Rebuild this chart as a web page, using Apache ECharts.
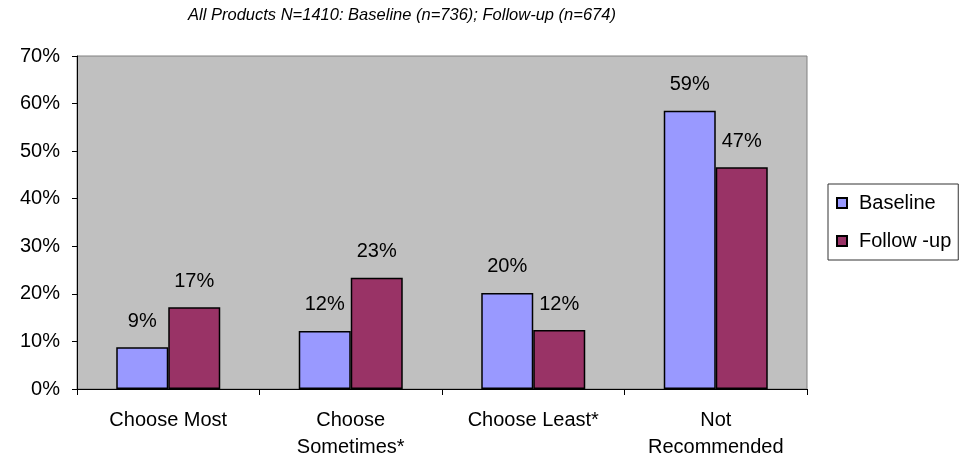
<!DOCTYPE html>
<html>
<head>
<meta charset="utf-8">
<script src="https://cdn.jsdelivr.net/npm/echarts@6/dist/echarts.min.js"></script>
<style>
  html, body { margin: 0; padding: 0; background: #ffffff; }
  #chart { width: 960px; height: 462px; }
</style>
</head>
<body>
<div id="chart"></div>
<script>
// Survey response shares (%) by product choice group
const categories = ['Choose Most', 'Choose\nSometimes*', 'Choose Least*', 'Not\nRecommended'];
const baseline = [8.8, 12.2, 20.2, 58.5];
const followUp = [17.2, 23.4, 12.4, 46.6];
const seriesNames = ['Baseline', 'Follow -up'];
const titleText = 'All Products N=1410: Baseline (n=736); Follow-up (n=674)';

const FONT = '"Liberation Sans", Arial, sans-serif';

const chart = echarts.init(document.getElementById('chart'), null, { renderer: 'canvas' });

const labelCfg = {
  show: true,
  position: 'top',
  distance: 16,
  color: '#000',
  fontFamily: FONT,
  fontSize: 20,
  formatter: p => Math.round(p.value) + '%'
};

chart.setOption({
  animation: false,
  backgroundColor: '#ffffff',
  textStyle: { fontFamily: FONT },
  title: {
    text: titleText,
    left: 402,
    top: 7,
    textAlign: 'center',
    padding: 0,
    textStyle: {
      fontFamily: FONT,
      fontSize: 16.5,
      fontStyle: 'italic',
      fontWeight: 'normal',
      color: '#000'
    }
  },
  legend: {
    orient: 'vertical',
    left: 828,
    top: 184,
    padding: [9, 7, 9, 8],
    itemWidth: 10,
    itemHeight: 10,
    itemGap: 18,
    icon: 'rect',
    backgroundColor: '#ffffff',
    borderColor: '#333333',
    borderWidth: 1,
    textStyle: {
      fontFamily: FONT,
      fontSize: 20,
      color: '#000',
      padding: [0, 0, 0, 7]
    },
    data: seriesNames
  },
  grid: {
    left: 77,
    right: 153,
    top: 56,
    bottom: 73,
    show: true,
    backgroundColor: '#c0c0c0',
    borderColor: '#808080',
    borderWidth: 1
  },
  xAxis: {
    type: 'category',
    data: categories,
    boundaryGap: true,
    axisLine: { show: true, lineStyle: { color: '#000', width: 1 } },
    axisTick: { show: true, length: 6, alignWithLabel: false, lineStyle: { color: '#000' } },
    axisLabel: {
      interval: 0,
      margin: 18,
      color: '#000',
      fontFamily: FONT,
      fontSize: 20,
      lineHeight: 27
    },
    splitLine: { show: false }
  },
  yAxis: {
    type: 'value',
    min: 0,
    max: 70,
    interval: 10,
    axisLine: { show: true, lineStyle: { color: '#000', width: 1 } },
    axisTick: { show: true, length: 5, lineStyle: { color: '#000' } },
    axisLabel: {
      margin: 17,
      color: '#000',
      fontFamily: FONT,
      fontSize: 20,
      formatter: '{value}%'
    },
    splitLine: { show: false }
  },
  series: [
    {
      name: seriesNames[0],
      type: 'bar',
      data: baseline,
      barWidth: 52,
      barGap: '0%',
      itemStyle: { color: '#9999ff', borderColor: '#000', borderWidth: 1.5 },
      label: labelCfg
    },
    {
      name: seriesNames[1],
      type: 'bar',
      data: followUp,
      barWidth: 52,
      barGap: '0%',
      itemStyle: { color: '#993366', borderColor: '#000', borderWidth: 1.5 },
      label: labelCfg
    }
  ]
});
</script>
</body>
</html>
